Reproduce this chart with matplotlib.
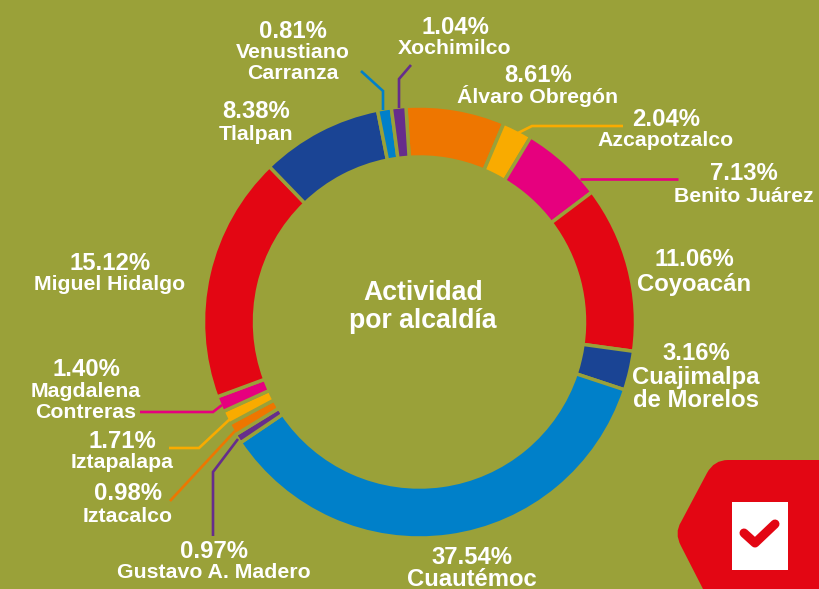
import matplotlib
matplotlib.use('Agg')
import matplotlib.pyplot as plt
from matplotlib.patches import PathPatch, Rectangle
from matplotlib.path import Path

plt.rcParams['font.family'] = ['Liberation Sans', 'DejaVu Sans']

# ========================================================================
# data, in drawing order (clockwise from the top)
alcaldias = ['Álvaro Obregón', 'Azcapotzalco', 'Benito Juárez', 'Coyoacán',
             'Cuajimalpa\nde Morelos', 'Cuautémoc', 'Gustavo A. Madero', 'Iztacalco',
             'Iztapalapa', 'Magdalena\nContreras', 'Miguel Hidalgo', 'Tlalpan',
             'Venustiano\nCarranza', 'Xochimilco']
porcentajes = [8.61, 2.04, 7.13, 11.06, 3.16, 37.54, 0.97, 0.98, 1.71, 1.40, 15.12, 8.38, 0.81, 1.04]
# the printed percentages do not match the arcs, so the arcs are read apart (degrees)
arcos = [26.6, 8.0, 22.0, 44.8, 10.5, 127.7, 2.5, 3.3, 3.7, 4.2, 66.3, 32.8, 3.7, 3.9]
colores = ['#ee7600', '#f9ab00', '#e6007e', '#e30613', '#1a4494', '#0080c9', '#662d8c',
           '#ee7600', '#f9ab00', '#e6007e', '#e30613', '#1a4494', '#0080c9', '#662d8c']

fondo = '#9aa139'
W, H = 819, 589

# label layout: centre x, centre y of the percentage, centre y of the name, sizes, line spacing
pos_labels = [(538, 75, 96, 17.2, 15.3, 1.1), (666, 120, 141, 17.2, 15.3, 1.1), (744, 174, 196, 17.2, 15.3, 1.1),
              (694, 260, 284, 17.2, 17.2, 1.1), (696, 354, 389, 17.2, 17.2, 1.02), (472, 557, 579, 17.2, 17.2, 1.1),
              (214, 551, 573, 17.2, 15.3, 1.1), (128, 493, 516, 17.2, 15.3, 1.1), (122, 442, 463, 17.2, 15.3, 1.1),
              (86, 369, 402, 17.2, 15.3, 1.1), (110, 263, 284, 17.2, 15.3, 1.1), (256, 111, 134, 17.2, 15.3, 1.1),
              (293, 31, 63, 17.2, 15.3, 1.1), (455, 28, 49, 17.2, 15.3, 1.1)]

# leader lines, one per small slice: (slice index, points in image pixels)
guias = [(12, [(361, 71), (383, 91), (383, 110)]),
         (13, [(411, 65), (399, 79), (399, 108)]),
         (1, [(623, 126), (532, 126), (518, 133)]),
         (2, [(580, 179), (678, 179)]),
         (9, [(140, 412), (213, 412), (222, 405)]),
         (8, [(169, 448), (199, 448), (230, 419)]),
         (7, [(170, 501), (235, 431)]),
         (6, [(213, 536), (213, 472), (238, 439)])]


# ========================================================================
def yy(y):
    """Image row to axes y (the axes grow upwards so the pie keeps its sense)."""
    return H - y


fig = plt.figure(figsize=(W/100., H/100.), dpi=100, facecolor=fondo)
ax = fig.add_axes([0, 0, 1, 1])

ax.pie(arcos, colors=colores, startangle=90+3.6, counterclock=False, center=(419.5, yy(322)),
       radius=216, normalize=True, wedgeprops=dict(width=51, edgecolor=fondo, linewidth=2.5))
ax.set_xlim(0, W)
ax.set_ylim(0, H)
ax.set_aspect('equal')
ax.axis('off')

for ii, pts in guias:
    ax.plot([p[0] for p in pts], [yy(p[1]) for p in pts], color=colores[ii], lw=1.9,
            solid_capstyle='butt', solid_joinstyle='miter')

for name, pct, (xc, y1, y2, fs1, fs2, ls) in zip(alcaldias, porcentajes, pos_labels):
    ax.text(xc, yy(y1), '{0:.2f}%'.format(pct), color='white', fontsize=fs1, fontweight='bold',
            ha='center', va='center')
    ax.text(xc, yy(y2), name, color='white', fontsize=fs2, fontweight='bold', ha='center',
            va='center', linespacing=ls)

ax.text(423, yy(307.5), 'Actividad\npor alcaldía', color='white', fontsize=19.2, fontweight='bold',
        ha='center', va='center', linespacing=1.1)

# red badge with the check mark, bottom right
verts = [(819, 460), (728, 460), (714, 460), (707, 473), (681, 522), (674, 533), (681, 546),
         (703, 589), (819, 589), (819, 460)]
codes = [Path.MOVETO, Path.LINETO, Path.CURVE3, Path.CURVE3, Path.LINETO, Path.CURVE3, Path.CURVE3,
         Path.LINETO, Path.LINETO, Path.CLOSEPOLY]
ax.add_patch(PathPatch(Path([(x, yy(y)) for x, y in verts], codes), fc='#e30613', ec='none', clip_on=False))
ax.add_patch(Rectangle((732, yy(570)), 56, 68, fc='white', ec='none', zorder=3))
ax.plot([744, 755, 775], [yy(533), yy(543), yy(524)], color='#e30613', lw=6.5, zorder=4,
        solid_capstyle='round', solid_joinstyle='round')

fig.savefig('out.png', dpi=100, facecolor=fondo)
